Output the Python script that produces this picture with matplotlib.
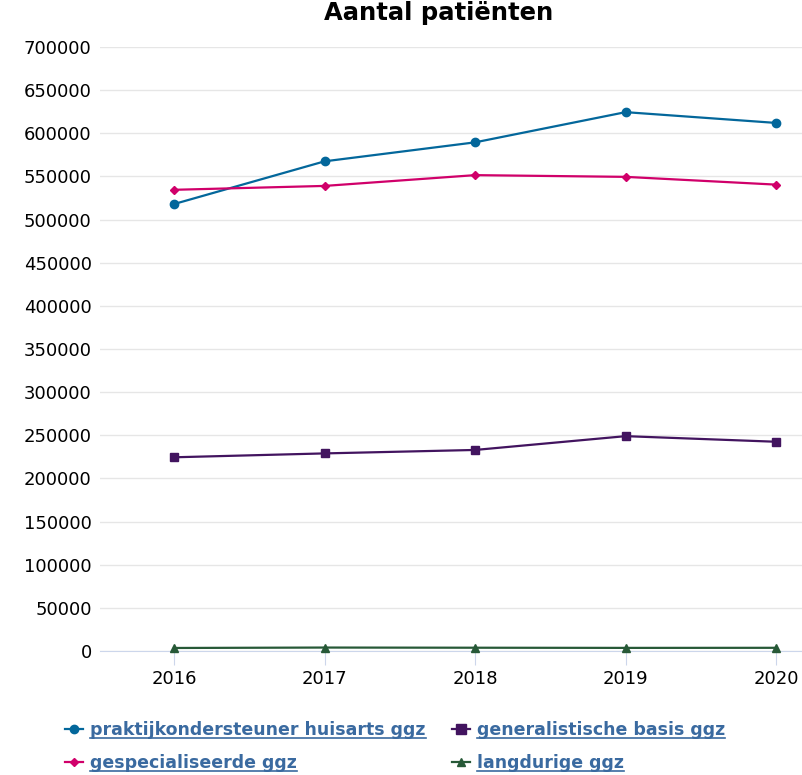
import numpy as np
import matplotlib.pyplot as plt
from matplotlib.lines import Line2D

years = [2016, 2017, 2018, 2019, 2020]
praktijk = [518000, 567500, 589500, 624500, 612000]
gespec = [534500, 539000, 551500, 549500, 540500]
generalist = [224500, 229000, 233000, 249000, 242500]
langdurig = [3500, 4000, 3800, 3600, 3700]

series = [
    ('praktijkondersteuner huisarts ggz', praktijk, '#03679b', 'o', 6),
    ('gespecialiseerde ggz', gespec, '#d0006a', 'D', 4),
    ('generalistische basis ggz', generalist, '#42145f', 's', 6),
    ('langdurige ggz', langdurig, '#275937', '^', 5.5),
]

fig = plt.figure(figsize=(8.02, 7.75), dpi=100)
ax = fig.add_axes([100/802, 1-651/775, 702/802, 604/775])

handles = {}
for name, vals, col, mk, ms in series:
    h, = ax.plot(years, vals, color=col, marker=mk, markersize=ms, lw=1.6, clip_on=False, zorder=3)
    handles[name] = h

ax.set_ylim(0, 700000)
ax.set_xlim(2015.508, 2020.172)
ax.set_yticks(np.arange(0, 700001, 50000))
ax.set_xticks(years)
ax.grid(axis='y', color='#e6e6e6', lw=1)
ax.set_axisbelow(True)
for s in ['top', 'right', 'left']:
    ax.spines[s].set_visible(False)
ax.spines['bottom'].set_color('#ccd6eb')
ax.tick_params(axis='y', length=0, labelsize=13, pad=6)
ax.tick_params(axis='x', length=10, color='#ccd6eb', labelsize=13, pad=4)

fig.text(439/802, 1-13/775, 'Aantal patiënten', ha='center', va='center', fontsize=17.5, fontweight='bold')

order = ['praktijkondersteuner huisarts ggz', 'generalistische basis ggz', 'gespecialiseerde ggz', 'langdurige ggz']
# legend is column-major, so reorder for ncol=2
leg_order = [order[0], order[2], order[1], order[3]]
leg = fig.legend([handles[n] for n in leg_order], leg_order, ncol=2, loc='center left',
                 bbox_to_anchor=(65/802, 1-746.5/775), frameon=False, handlelength=1.05,
                 handletextpad=0.4, columnspacing=1.5, labelspacing=0.9,
                 borderaxespad=0, borderpad=0,
                 prop={'weight': 'bold', 'size': 12.5})
for t in leg.get_texts():
    t.set_color('#3a6aa0')
for h, ms in zip(leg.legend_handles, [6, 4, 6.5, 6]):
    h.set_markersize(ms)

fig.canvas.draw()
r = fig.canvas.get_renderer()
for t in leg.get_texts():
    bb = t.get_window_extent(r).transformed(fig.transFigure.inverted())
    fig.add_artist(Line2D([bb.x0, bb.x1], [bb.y0 + 0.0015, bb.y0 + 0.0015], color='#3a6aa0', lw=1.2))

fig.savefig('out.png', dpi=100)
